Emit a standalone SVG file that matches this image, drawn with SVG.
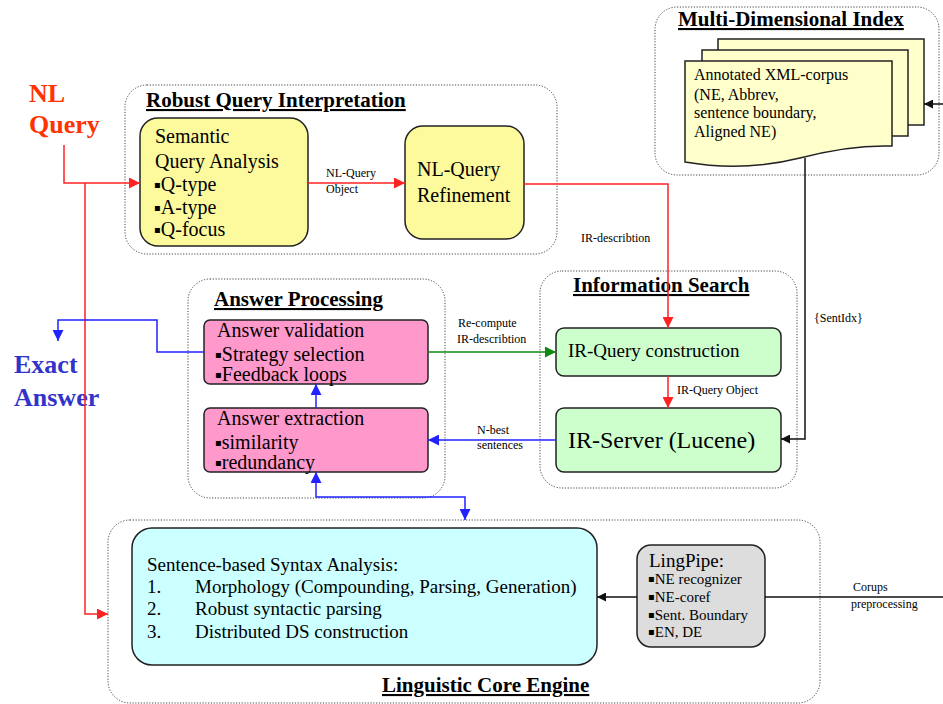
<svg xmlns="http://www.w3.org/2000/svg" width="943" height="704" viewBox="0 0 943 704">
  <style>
    text { font-family: "Liberation Serif", "Times New Roman", serif; fill: #000; }
    .title { font-size: 21px; font-weight: bold; text-decoration: underline; }
    .group { fill: none; stroke: #444; stroke-width: 1; stroke-dasharray: 1.2 1.6; }
    .box { stroke: #222; stroke-width: 1.5; }
    .yellow { fill: #FCFA9C; }
    .pink { fill: #FF99CC; }
    .green { fill: #CCFFCC; }
    .cyan { fill: #CCFFFF; }
    .grey { fill: #DDDDDD; }
    .sheet { fill: #FFFFCC; stroke: #222; stroke-width: 1.5; }
    .body { font-size: 20px; }
    .mid { font-size: 19px; }
    .small { font-size: 12px; }
    .bul { font-family: "DejaVu Sans", sans-serif; font-size: 10px; }
    .red { fill: none; stroke: #FF2222; stroke-width: 1.5; }
    .blue { fill: none; stroke: #2222FF; stroke-width: 1.5; }
    .grn { fill: none; stroke: #118811; stroke-width: 1.5; }
    .blk { fill: none; stroke: #111; stroke-width: 1.5; }
  </style>
  <defs>
    <marker id="ah-red" viewBox="0 0 10 10" refX="10" refY="5" markerWidth="13" markerHeight="11" markerUnits="userSpaceOnUse" orient="auto">
      <path d="M0,0 L10,5 L0,10 Z" fill="#FF2222"/>
    </marker>
    <marker id="ah-blue" viewBox="0 0 10 10" refX="10" refY="5" markerWidth="13" markerHeight="11" markerUnits="userSpaceOnUse" orient="auto-start-reverse">
      <path d="M0,0 L10,5 L0,10 Z" fill="#2222FF"/>
    </marker>
    <marker id="ah-green" viewBox="0 0 10 10" refX="10" refY="5" markerWidth="13" markerHeight="11" markerUnits="userSpaceOnUse" orient="auto">
      <path d="M0,0 L10,5 L0,10 Z" fill="#118811"/>
    </marker>
    <marker id="ah-black" viewBox="0 0 10 10" refX="10" refY="5" markerWidth="11" markerHeight="9" markerUnits="userSpaceOnUse" orient="auto">
      <path d="M0,0 L10,5 L0,10 Z" fill="#111"/>
    </marker>
  </defs>

  <rect width="943" height="704" fill="#fff"/>

  <!-- input / output labels -->
  <g id="nl-query">
    <text x="29" y="102" font-size="26" font-weight="bold" style="fill:#FF3300">NL</text>
    <text x="29" y="133" font-size="26" font-weight="bold" style="fill:#FF3300">Query</text>
  </g>
  <g id="exact-answer">
    <text x="14" y="373" font-size="26" font-weight="bold" style="fill:#3333CC">Exact</text>
    <text x="14" y="406" font-size="26" font-weight="bold" style="fill:#3333CC">Answer</text>
  </g>

  <!-- Robust Query Interpretation -->
  <g id="robust-query-interpretation">
    <rect class="group" x="125" y="85" width="432" height="169" rx="22"/>
    <text class="title" x="146" y="107">Robust Query Interpretation</text>
  </g>
  <g id="semantic-query-analysis">
    <rect class="box yellow" x="140" y="118" width="168" height="128" rx="18"/>
    <text class="body" x="155" y="143">Semantic</text>
    <text class="body" x="155" y="168">Query Analysis</text>
    <text class="body" x="154" y="191"><tspan class="bul" dy="-3">▪</tspan><tspan dy="3">Q-type</tspan></text>
    <text class="body" x="154" y="214"><tspan class="bul" dy="-3">▪</tspan><tspan dy="3">A-type</tspan></text>
    <text class="body" x="154" y="236"><tspan class="bul" dy="-3">▪</tspan><tspan dy="3">Q-focus</tspan></text>
  </g>
  <g id="nl-query-refinement">
    <rect class="box yellow" x="405" y="126" width="119" height="113" rx="18"/>
    <text class="body" x="417" y="176">NL-Query</text>
    <text class="body" x="417" y="202">Refinement</text>
  </g>

  <!-- Multi-Dimensional Index -->
  <g id="multi-dimensional-index">
    <rect class="group" x="655" y="7" width="284" height="168" rx="22"/>
    <text class="title" x="678" y="26">Multi-Dimensional Index</text>
  </g>
  <g id="annotated-xml-corpus">
    <rect class="sheet" x="718" y="39" width="206" height="86"/>
    <rect class="sheet" x="702" y="50" width="206" height="86"/>
    <path class="sheet" d="M685,61 H892 V146 C860,145 830,150 800,158 C760,168 720,168 685,162 Z"/>
    <text x="694" y="80" font-size="16">Annotated XML-corpus</text>
    <text x="694" y="100" font-size="16">(NE, Abbrev,</text>
    <text x="694" y="118" font-size="16">sentence boundary,</text>
    <text x="694" y="137" font-size="16">Aligned NE)</text>
  </g>

  <!-- Answer Processing -->
  <g id="answer-processing">
    <rect class="group" x="188" y="279" width="257" height="219" rx="22"/>
    <text class="title" x="214" y="306">Answer Processing</text>
  </g>
  <g id="answer-validation">
    <rect class="box pink" x="204" y="320" width="224" height="64" rx="6"/>
    <text class="body" x="217" y="337">Answer validation</text>
    <text class="body" x="215" y="361"><tspan class="bul" dy="-3">▪</tspan><tspan dy="3">Strategy selection</tspan></text>
    <text class="body" x="215" y="381"><tspan class="bul" dy="-3">▪</tspan><tspan dy="3">Feedback loops</tspan></text>
  </g>
  <g id="answer-extraction">
    <rect class="box pink" x="204" y="408" width="224" height="64" rx="6"/>
    <text class="body" x="217" y="425">Answer extraction</text>
    <text class="body" x="215" y="449"><tspan class="bul" dy="-3">▪</tspan><tspan dy="3">similarity</tspan></text>
    <text class="body" x="215" y="469"><tspan class="bul" dy="-3">▪</tspan><tspan dy="3">redundancy</tspan></text>
  </g>

  <!-- Information Search -->
  <g id="information-search">
    <rect class="group" x="540" y="271" width="257" height="217" rx="22"/>
    <text class="title" x="573" y="292">Information Search</text>
  </g>
  <g id="ir-query-construction">
    <rect class="box green" x="556" y="328" width="225" height="48" rx="8"/>
    <text class="mid" x="568" y="357">IR-Query construction</text>
  </g>
  <g id="ir-server">
    <rect class="box green" x="556" y="408" width="225" height="64" rx="8"/>
    <text x="568" y="448" font-size="24">IR-Server (Lucene)</text>
  </g>

  <!-- Linguistic Core Engine -->
  <g id="linguistic-core-engine">
    <rect class="group" x="108" y="520" width="712" height="183" rx="22"/>
    <text class="title" x="382" y="692">Linguistic Core Engine</text>
  </g>
  <g id="syntax-analysis">
    <rect class="box cyan" x="132" y="528" width="465" height="137" rx="20"/>
    <text class="mid" x="147" y="571">Sentence-based Syntax Analysis:</text>
    <text class="mid" x="147" y="593">1.</text>
    <text class="mid" x="195" y="593">Morphology (Compounding, Parsing, Generation)</text>
    <text class="mid" x="147" y="615">2.</text>
    <text class="mid" x="195" y="615">Robust syntactic parsing</text>
    <text class="mid" x="147" y="638">3.</text>
    <text class="mid" x="195" y="638">Distributed DS construction</text>
  </g>
  <g id="lingpipe">
    <rect class="box grey" x="637" y="545" width="128" height="102" rx="14"/>
    <text x="649" y="567" font-size="19">LingPipe:</text>
    <text x="648" y="584" font-size="15"><tspan class="bul" dy="-2">▪</tspan><tspan dy="2">NE recognizer</tspan></text>
    <text x="648" y="602" font-size="15"><tspan class="bul" dy="-2">▪</tspan><tspan dy="2">NE-coref</tspan></text>
    <text x="648" y="620" font-size="15"><tspan class="bul" dy="-2">▪</tspan><tspan dy="2">Sent. Boundary</tspan></text>
    <text x="648" y="637" font-size="15"><tspan class="bul" dy="-2">▪</tspan><tspan dy="2">EN, DE</tspan></text>
  </g>

  <!-- connectors -->
  <g id="connectors">
    <path class="red" d="M64,145 V183 H140" marker-end="url(#ah-red)"/>
    <path class="red" d="M85,183 V614 H108" marker-end="url(#ah-red)"/>
    <path class="red" d="M308,183 H405" marker-end="url(#ah-red)"/>
    <path class="red" d="M524,184 H668 V328" marker-end="url(#ah-red)"/>
    <path class="red" d="M668,376 V408" marker-end="url(#ah-red)"/>
    <path class="grn" d="M428,352 H556" marker-end="url(#ah-green)"/>
    <path class="blue" d="M556,440 H428" marker-end="url(#ah-blue)"/>
    <path class="blue" d="M316,408 V384" marker-end="url(#ah-blue)"/>
    <path class="blue" d="M204,352 H157 V320 H58 V341" marker-end="url(#ah-blue)"/>
    <path class="blue" d="M316,472 V497 H465 V520" marker-start="url(#ah-blue)" marker-end="url(#ah-blue)"/>
    <path class="blk" d="M943,104 H924" marker-end="url(#ah-black)"/>
    <path class="blk" d="M805,158 V439 H781" marker-end="url(#ah-black)"/>
    <path class="blk" d="M943,597 H765"/>
    <path class="blk" d="M637,597 H597" marker-end="url(#ah-black)"/>

    <text class="small" x="326" y="177">NL-Query</text>
    <text class="small" x="326" y="193">Object</text>
    <text class="small" x="581" y="242" font-size="13">IR-describtion</text>
    <text class="small" x="458" y="327">Re-compute</text>
    <text class="small" x="457" y="343">IR-describtion</text>
    <text class="small" x="677" y="394">IR-Query Object</text>
    <text class="small" x="477" y="434">N-best</text>
    <text class="small" x="477" y="449">sentences</text>
    <text class="small" x="814" y="322">{SentIdx}</text>
    <text class="small" x="853" y="591">Corups</text>
    <text class="small" x="851" y="608">preprocessing</text>
  </g>
</svg>
